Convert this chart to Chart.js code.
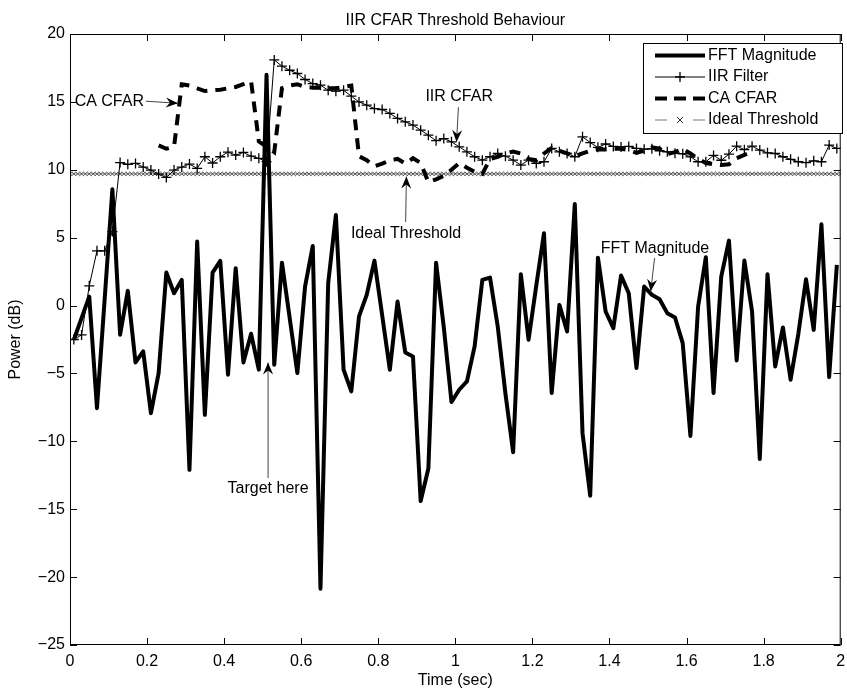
<!DOCTYPE html>
<html><head><meta charset="utf-8">
<script src="https://cdn.jsdelivr.net/npm/chart.js@4/dist/chart.umd.min.js"></script>
<style>html,body{margin:0;padding:0;background:#fff}#wrap{width:847px;height:691px}</style>
</head><body><div id="wrap"><canvas id="c" width="847" height="691"></canvas></div>
<script>
// ---------------- data ----------------
const sampleTimesSec = [0.01,0.03,0.05,0.07,0.09,0.11,0.13,0.15,0.17,0.19,0.21,0.23,0.25,0.27,0.29,0.31,0.33,0.35,0.37,0.39,
0.41,0.43,0.45,0.47,0.49,0.51,0.53,0.55,0.57,0.59,0.61,0.63,0.65,0.67,0.69,0.71,0.73,0.75,0.77,0.79,
0.81,0.83,0.85,0.87,0.89,0.91,0.93,0.95,0.97,0.99,1.01,1.03,1.05,1.07,1.09,1.11,1.13,1.15,1.17,1.19,
1.21,1.23,1.25,1.27,1.29,1.31,1.33,1.35,1.37,1.39,1.41,1.43,1.45,1.47,1.49,1.51,1.53,1.55,1.57,1.59,
1.61,1.63,1.65,1.67,1.69,1.71,1.73,1.75,1.77,1.79,1.81,1.83,1.85,1.87,1.89,1.91,1.93,1.95,1.97,1.99];

const fftMagnitudeDb = [-2.52,-0.93,0.66,-7.56,0.5,8.56,-2.15,1.08,-4.19,-3.38,-7.93,-4.97,2.43,0.91,1.89,-12.1,4.71,-8.05,2.43,3.29,
-5.09,2.75,-4.19,-2.08,-4.72,17.0,-4.36,3.16,-0.9,-4.97,1.4,4.39,-20.85,1.64,6.67,-4.73,-6.32,-0.8,0.79,3.31,
-0.7,-4.73,0.3,-3.45,-3.75,-14.4,-12.0,3.16,-1.6,-7.1,-6.2,-5.59,-3.01,1.89,2.06,-1.54,-6.5,-10.8,2.31,-2.52,
1.47,5.32,-6.44,0.05,-1.91,7.48,-9.4,-14.0,3.53,-0.44,-1.66,2.21,0.91,-4.6,1.4,0.79,0.47,-0.56,-0.88,-2.77,
-9.6,-0.07,3.56,-6.44,2.13,4.78,-4.04,3.31,-0.44,-11.3,2.31,-4.48,-1.61,-5.46,-2.1,1.94,-1.79,5.98,-5.27,2.99];

const iirFilterDb = [-2.5,-2.16,1.45,4.03,4.03,5.45,10.53,10.4,10.47,10.2,9.98,9.68,9.44,9.98,10.2,10.42,10.1,10.96,10.5,10.96,
11.3,11.08,11.28,11.0,10.84,10.6,18.09,17.63,17.33,17.09,16.65,16.35,16.23,15.86,15.79,15.86,15.42,15.0,14.76,14.51,
14.44,14.15,13.78,13.53,13.29,12.92,12.55,12.14,12.3,12.06,11.69,11.32,10.96,10.71,10.96,11.2,11.0,10.71,10.35,10.71,
10.47,10.59,11.57,11.32,11.2,10.96,12.43,12.0,11.65,11.9,11.72,11.68,11.72,11.57,11.52,11.55,11.4,11.32,11.22,11.18,
10.95,10.59,10.59,11.06,10.7,11.15,11.74,11.48,11.74,11.45,11.25,11.2,10.96,10.77,10.59,10.52,10.66,10.59,11.82,11.57];

const caCfarDb = [null,null,null,null,null,null,null,null,null,null,null,11.8,11.55,11.7,16.3,16.2,16.0,15.8,15.85,15.9,
16.0,16.1,16.3,16.5,12.1,11.7,11.3,16.0,16.2,16.3,16.1,16.05,16.05,16.0,16.0,16.1,16.2,11.0,10.7,10.25,
10.45,10.7,10.8,10.45,10.85,10.5,9.1,9.3,9.55,10.0,10.5,10.15,9.85,9.7,10.8,10.96,11.2,11.35,11.2,10.8,
10.7,11.2,11.6,11.4,11.2,11.0,11.2,11.4,11.5,11.5,11.55,11.55,11.45,11.25,11.4,11.65,11.55,11.15,11.3,11.55,
11.2,10.8,10.5,10.4,10.35,10.4,10.85,11.1,11.3,null,null,null,null,null,null,null,null,null,null,null];

const idealThresholdDb = 9.7;
const idealMarkerStepSec = 0.01;

const xTickValues = [0,0.2,0.4,0.6,0.8,1,1.2,1.4,1.6,1.8,2];
const yTickValues = [-25,-20,-15,-10,-5,0,5,10,15,20];

const seriesNames = ['FFT Magnitude','IIR Filter','CA CFAR','Ideal Threshold'];
const titleText = 'IIR CFAR Threshold Behaviour';
const xAxisTitle = 'Time (sec)';
const yAxisTitle = 'Power (dB)';

// text arrows (data coordinates)
const textArrows = [
  {text:'CA CFAR', tx:0.102, ty:15.02, x1:0.197, y1:15.05, x2:0.280, y2:14.9},
  {text:'IIR CFAR', tx:1.010, ty:15.37, x1:1.008, y1:14.6, x2:1.003, y2:12.05},
  {text:'Ideal Threshold', tx:0.872, ty:5.33, x1:0.871, y1:6.15, x2:0.873, y2:9.5},
  {text:'FFT Magnitude', tx:1.518, ty:4.23, x1:1.517, y1:3.5, x2:1.507, y2:1.05},
  {text:'Target here', tx:0.514, ty:-13.5, x1:0.514, y1:-12.7, x2:0.514, y2:-4.2}
];

// ---------------- build ----------------
const FONT = "'Liberation Sans', Arial, Helvetica, sans-serif";
const toPts = (ys) => sampleTimesSec.map((t,i)=>({x:t, y:ys[i]}));
const idealPts = [];
for (let i = 0; i <= Math.round(2/idealMarkerStepSec); i++) idealPts.push({x: +(i*idealMarkerStepSec).toFixed(2), y: idealThresholdDb});

const fmt = v => { const a = Math.round(Math.abs(v)*10)/10; return (v < -1e-9 ? '\u2212' : '') + a.toString(); };

function arrowHead(ctx, x1, y1, x2, y2) {
  const ang = Math.atan2(y2-y1, x2-x1);
  const L = 12, W = 5, N = 8;
  ctx.save();
  ctx.translate(x2, y2); ctx.rotate(ang);
  ctx.beginPath();
  ctx.moveTo(0,0); ctx.lineTo(-L, -W); ctx.lineTo(-N, 0); ctx.lineTo(-L, W); ctx.closePath();
  ctx.fillStyle = '#000'; ctx.fill();
  ctx.restore();
}

const decor = {
  id: 'decor',
  afterDatasetsDraw(chart) {
    const ctx = chart.ctx, a = chart.chartArea, xs = chart.scales.x, ys = chart.scales.y;
    ctx.save();
    // box
    ctx.strokeStyle = '#000'; ctx.lineWidth = 1;
    ctx.strokeRect(a.left+0.5, a.top+0.5, a.right-a.left-1, a.bottom-a.top-1);
    // inward ticks
    const TL = 7;
    ctx.beginPath();
    xTickValues.forEach(v => { const p = Math.round(xs.getPixelForValue(v))+0.5;
      ctx.moveTo(p, a.bottom); ctx.lineTo(p, a.bottom-TL); ctx.moveTo(p, a.top); ctx.lineTo(p, a.top+TL); });
    yTickValues.forEach(v => { const p = Math.round(ys.getPixelForValue(v))+0.5;
      ctx.moveTo(a.left, p); ctx.lineTo(a.left+TL, p); ctx.moveTo(a.right, p); ctx.lineTo(a.right-TL, p); });
    ctx.stroke();

    // text arrows
    ctx.font = '16px ' + FONT; ctx.fillStyle = '#000';
    ctx.textAlign = 'center'; ctx.textBaseline = 'middle';
    textArrows.forEach(t => {
      ctx.fillText(t.text, xs.getPixelForValue(t.tx), ys.getPixelForValue(t.ty));
      const x1 = xs.getPixelForValue(t.x1), y1 = ys.getPixelForValue(t.y1);
      const x2 = xs.getPixelForValue(t.x2), y2 = ys.getPixelForValue(t.y2);
      ctx.beginPath(); ctx.strokeStyle = '#444'; ctx.lineWidth = 1;
      ctx.moveTo(x1, y1); ctx.lineTo(x2, y2); ctx.stroke();
      arrowHead(ctx, x1, y1, x2, y2);
    });

    // legend
    const lx = 643, ly = 43, lw = 199, lh = 90;
    ctx.fillStyle = '#fff'; ctx.fillRect(lx, ly, lw, lh);
    ctx.strokeStyle = '#000'; ctx.lineWidth = 1; ctx.strokeRect(lx+0.5, ly+0.5, lw, lh);
    const rows = [55.5, 77, 98.5, 120];
    const s0 = 655, s1 = 705, sm = 680;
    ctx.textAlign = 'left'; ctx.textBaseline = 'middle'; ctx.font = '16px ' + FONT;
    // FFT
    ctx.strokeStyle = '#000'; ctx.lineWidth = 4; ctx.setLineDash([]);
    ctx.beginPath(); ctx.moveTo(s0, rows[0]); ctx.lineTo(s1, rows[0]); ctx.stroke();
    // IIR
    ctx.lineWidth = 1; ctx.beginPath(); ctx.moveTo(s0, rows[1]); ctx.lineTo(s1, rows[1]); ctx.stroke();
    ctx.lineWidth = 1.3; ctx.beginPath(); ctx.moveTo(sm-5, rows[1]); ctx.lineTo(sm+5, rows[1]);
    ctx.moveTo(sm, rows[1]-5); ctx.lineTo(sm, rows[1]+5); ctx.stroke();
    // CA
    ctx.lineWidth = 4; ctx.setLineDash([12, 7]);
    ctx.beginPath(); ctx.moveTo(s0, rows[2]); ctx.lineTo(s1+1, rows[2]); ctx.stroke();
    ctx.setLineDash([]);
    // Ideal
    ctx.strokeStyle = '#777'; ctx.lineWidth = 1;
    ctx.beginPath(); ctx.moveTo(s0, rows[3]); ctx.lineTo(s0+12, rows[3]); ctx.moveTo(s1-12, rows[3]); ctx.lineTo(s1, rows[3]); ctx.stroke();
    ctx.strokeStyle = '#333'; ctx.beginPath();
    ctx.moveTo(sm-3, rows[3]-3); ctx.lineTo(sm+3, rows[3]+3); ctx.moveTo(sm-3, rows[3]+3); ctx.lineTo(sm+3, rows[3]-3); ctx.stroke();
    ctx.fillStyle = '#000';
    seriesNames.forEach((n,i) => ctx.fillText(n, 708, rows[i]));

    // titles
    ctx.textAlign = 'center'; ctx.textBaseline = 'alphabetic';
    ctx.fillText(titleText, (a.left+a.right)/2, 25);
    ctx.textBaseline = 'middle';
    ctx.fillText(xAxisTitle, (a.left+a.right)/2, 681);
    ctx.save(); ctx.translate(16, (a.top+a.bottom)/2); ctx.rotate(-Math.PI/2);
    ctx.fillText(yAxisTitle, 0, 0); ctx.restore();
    ctx.restore();
  }
};

new Chart(document.getElementById('c'), {
  type: 'line',
  data: { datasets: [
    { label: seriesNames[1], data: toPts(iirFilterDb), borderColor:'#000', borderWidth:1, pointStyle:'cross',
      pointRadius:5, pointBorderWidth:1.3, pointBorderColor:'#000', pointBackgroundColor:'#000', tension:0, order:1 },
    { label: seriesNames[0], data: toPts(fftMagnitudeDb), borderColor:'#000', borderWidth:4, pointRadius:0,
      borderJoinStyle:'round', tension:0, order:2 },
    { label: seriesNames[2], data: toPts(caCfarDb), borderColor:'#000', borderWidth:4, borderDash:[11,8], pointRadius:0,
      spanGaps:false, tension:0, order:3 },
    { label: seriesNames[3], data: idealPts, borderColor:'#999', borderWidth:1, pointStyle:'crossRot', pointRadius:2.9,
      pointBorderWidth:0.8, pointBorderColor:'#333', tension:0, order:4 }
  ]},
  options: {
    responsive:false, animation:false, devicePixelRatio:1,
    layout: { padding: { top:34, right:3, left:0, bottom:0 } },
    plugins: { legend:{display:false}, tooltip:{enabled:false}, title:{display:false} },
    scales: {
      x: { type:'linear', min:0, max:2,
        afterBuildTicks(s){ s.ticks = xTickValues.map(v=>({value:v})); },
        afterFit(s){ s.height = 46; s.paddingLeft = 0; s.paddingRight = 0; },
        grid:{display:false, drawTicks:false}, border:{display:false},
        ticks:{ padding:7, color:'#000', font:{family:FONT, size:16}, maxRotation:0, autoSkip:false, callback:v=>fmt(v) } },
      y: { type:'linear', min:-25, max:20,
        afterBuildTicks(s){ s.ticks = yTickValues.map(v=>({value:v})); },
        afterFit(s){ s.width = 70; s.paddingTop = 0; s.paddingBottom = 0; },
        grid:{display:false, drawTicks:false}, border:{display:false},
        ticks:{ padding:5, color:'#000', font:{family:FONT, size:16}, autoSkip:false, callback:v=>fmt(v) } }
    }
  },
  plugins: [decor]
});
</script></body></html>
